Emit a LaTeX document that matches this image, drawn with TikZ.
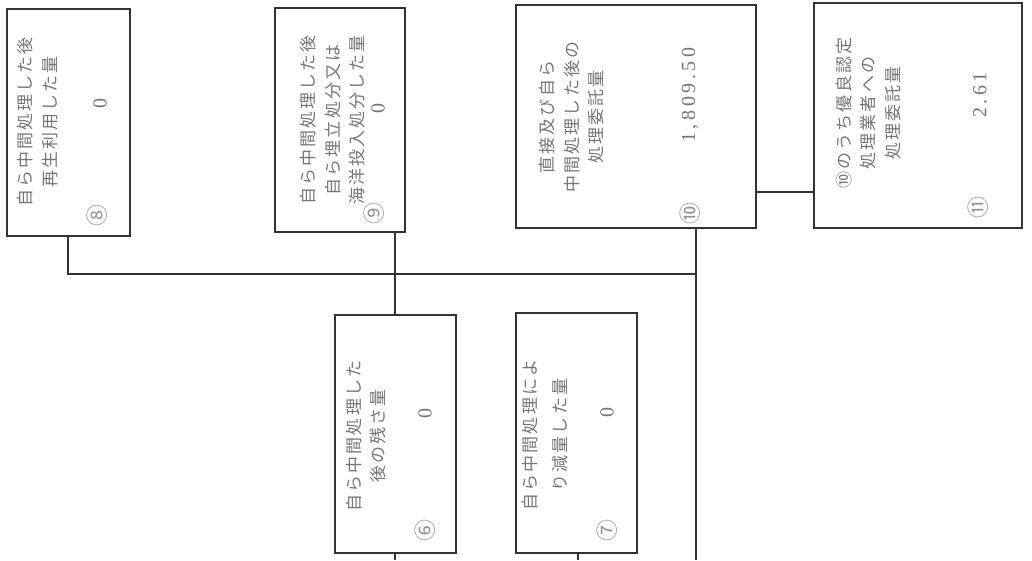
\documentclass[tikz,border=0pt]{standalone}
\usepackage{fontspec}
\newfontfamily\cjk[LetterSpace=12]{Noto Sans CJK JP}
\newfontfamily\numfont[LetterSpace=18]{Liberation Serif}
\definecolor{linec}{HTML}{333333}
\definecolor{textc}{HTML}{767676}
\begin{document}
\begin{tikzpicture}[x=1pt,y=-1pt,
  box/.style={draw=linec,line width=1.6pt,inner sep=0pt},
  lbl/.style={rotate=90,align=center,text=textc,inner sep=0pt,font=\cjk\fontsize{17}{24.5}\selectfont},
  val/.style={rotate=90,text=textc,inner sep=0pt,font=\numfont\fontsize{20}{24}\selectfont},
  num/.style={rotate=90,text=textc!80,inner sep=0pt,font=\cjk\fontsize{22}{24}\selectfont},
  conn/.style={draw=linec,line width=1.6pt}]
\useasboundingbox[fill=white] (0,0) rectangle (1032,560);
% boxes
\node[box,minimum width=123pt,minimum height=227pt] (b8) at (68.5,122.5) {};
\node[box,minimum width=130pt,minimum height=224pt] (b9) at (340,120) {};
\node[box,minimum width=240pt,minimum height=223pt] (b10) at (636,116.5) {};
\node[box,minimum width=208pt,minimum height=225pt] (b11) at (918,115.5) {};
\node[box,minimum width=121pt,minimum height=238pt] (b6) at (395.5,434) {};
\node[box,minimum width=121pt,minimum height=240pt] (b7) at (576.5,433) {};
% labels
\node[lbl] (t8) at (37.5,122) {自ら中間処理した後\\再生利用した量};
\node[lbl] (t9) at (333,120) {自ら中間処理した後\\自ら埋立処分又は\\海洋投入処分した量};
\node[lbl] (t10) at (572,117) {直接及び自ら\\中間処理した後の\\処理委託量};
\node[lbl] (t11) at (868,113) {⑩のうち優良認定\\処理業者への\\処理委託量};
\node[lbl] (t6) at (366,436) {自ら中間処理した\\後の残さ量};
\node[lbl,font=\cjk\fontsize{17}{30}\selectfont] (t7) at (545,435) {自ら中間処理によ\\り減量した量};
% values
\node[val] (v8) at (100,103) {0};
\node[val] (v9) at (378,108) {0};
\node[val] (v10) at (690,95) {1,809.50};
\node[val] (v11) at (980,95) {2.61};
\node[val] (v6) at (425,413) {0};
\node[val] (v7) at (607,412) {0};
% circled numbers
\node[num] (n8) at (97,215) {⑧};
\node[num] (n9) at (374,213) {⑨};
\node[num] (n10) at (690,213) {⑩};
\node[num] (n11) at (978,207) {⑪};
\node[num] (n6) at (425,530) {⑥};
\node[num] (n7) at (607,530) {⑦};
% connector points
\coordinate (bus8) at (68,274);
\coordinate (bus10) at (696,274);
\coordinate (end10) at (696,560);
\coordinate (end6) at (395,560);
\coordinate (end7) at (578,560);
% connectors
\draw[conn] (b8.south -| bus8) -- (bus8) -- (bus10);
\draw[conn] (b9.south -| end6) -- (b6.north -| end6);
\draw[conn] (b10.south -| end10) -- (end10);
\draw[conn] (b10.east |- 0,192) -- (b11.west |- 0,192);
\draw[conn] (b6.south -| end6) -- (end6);
\draw[conn] (b7.south -| end7) -- (end7);
\end{tikzpicture}
\end{document}
